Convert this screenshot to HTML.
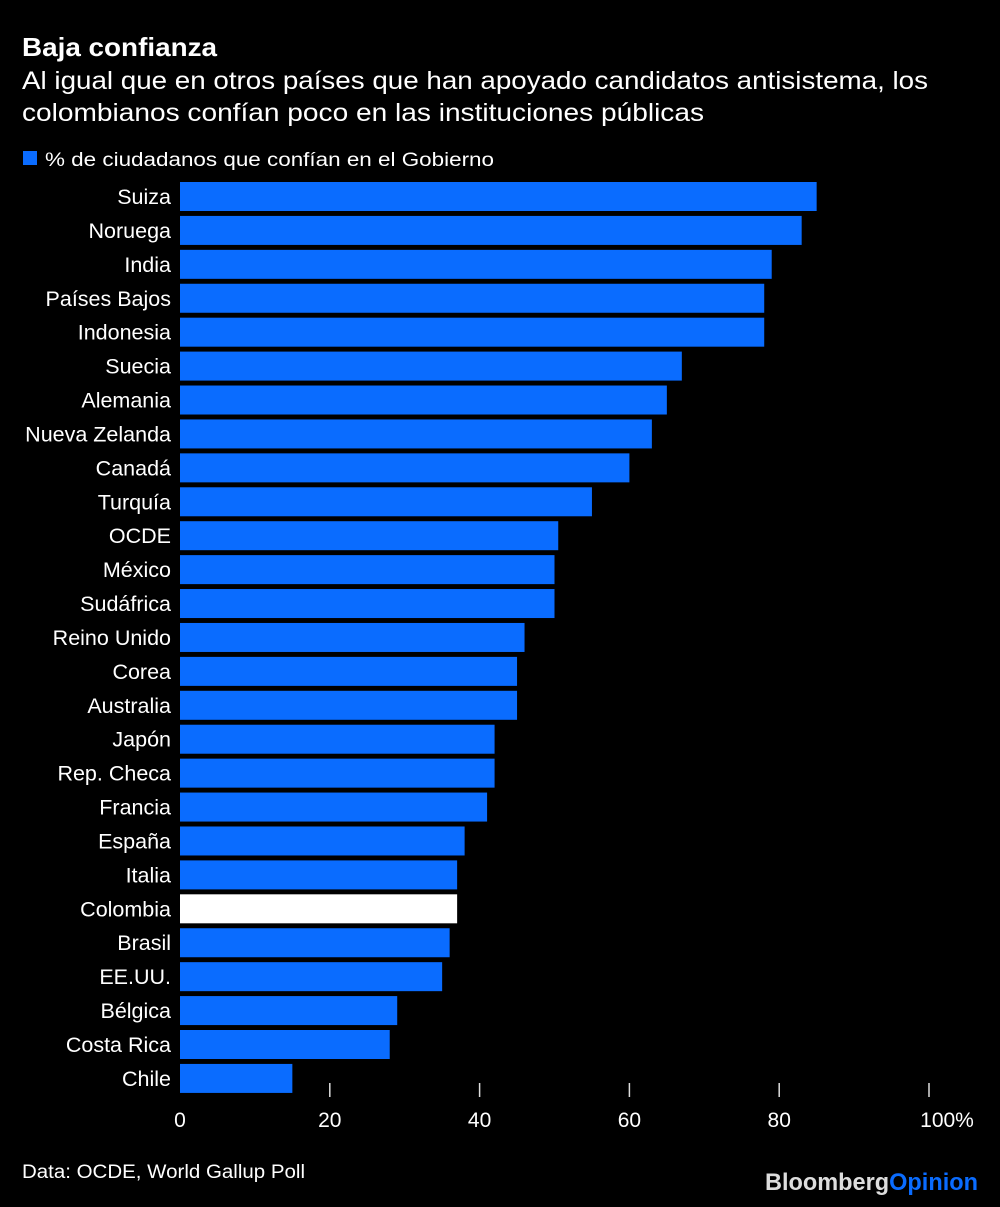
<!DOCTYPE html>
<html><head><meta charset="utf-8"><style>
body{margin:0;background:#000;width:1000px;height:1202px;overflow:hidden;font-family:"Liberation Sans",sans-serif;color:#fff}
</style></head><body>
<svg width="1000" height="1202">
<text x="22" y="56" font-size="26" font-weight="bold" fill="#fff" textLength="195" lengthAdjust="spacingAndGlyphs">Baja confianza</text>
<text x="22" y="89" font-size="25" fill="#fff" textLength="906" lengthAdjust="spacingAndGlyphs">Al igual que en otros países que han apoyado candidatos antisistema, los</text>
<text x="22" y="121" font-size="25" fill="#fff" textLength="682" lengthAdjust="spacingAndGlyphs">colombianos confían poco en las instituciones públicas</text>
<rect x="23" y="151" width="14" height="14" fill="#0a6cff"/>
<text x="45" y="166" font-size="19" fill="#fff" textLength="449" lengthAdjust="spacingAndGlyphs">% de ciudadanos que confían en el Gobierno</text>
<g id="bars"></g><g id="axis"></g>
<text x="22" y="1178" font-size="19" fill="#fff" textLength="283" lengthAdjust="spacingAndGlyphs">Data: OCDE, World Gallup Poll</text>
<text x="765" y="1190" font-size="24" font-weight="bold" textLength="213" lengthAdjust="spacingAndGlyphs"><tspan fill="#ddd">Bloomberg</tspan><tspan fill="#0a6cff">Opinion</tspan></text>
</svg>
<script>
const categories=["Suiza","Noruega","India","Países Bajos","Indonesia","Suecia","Alemania","Nueva Zelanda","Canadá","Turquía","OCDE","México","Sudáfrica","Reino Unido","Corea","Australia","Japón","Rep. Checa","Francia","España","Italia","Colombia","Brasil","EE.UU.","Bélgica","Costa Rica","Chile"];
const values=[85,83,79,78,78,67,65,63,60,55,50.5,50,50,46,45,45,42,42,41,38,37,37,36,35,29,28,15];
const ticks=[0,20,40,60,80,100];
const tickLabels=["0","20","40","60","80","100%"];
const NS="http://www.w3.org/2000/svg";
const x=v=>180+v*7.49;
const y=i=>182+i*33.92;
const bars=document.getElementById("bars"),axis=document.getElementById("axis");
categories.forEach((c,i)=>{
  const r=document.createElementNS(NS,"rect");
  r.setAttribute("x",x(0));r.setAttribute("y",y(i));
  r.setAttribute("width",x(values[i])-x(0));r.setAttribute("height",29);
  r.setAttribute("fill",c==="Colombia"?"#fff":"#0a6cff");
  
  
  bars.appendChild(r);
  const t=document.createElementNS(NS,"text");
  t.setAttribute("x",171);t.setAttribute("y",y(i)+22);
  t.setAttribute("text-anchor","end");t.setAttribute("font-size","21.5");t.setAttribute("fill","#fff");
  t.textContent=c;
  
  
  bars.appendChild(t);
});
ticks.forEach((v,i)=>{
  if(v>0){
  const l=document.createElementNS(NS,"line");
  l.setAttribute("x1",x(v));l.setAttribute("x2",x(v));l.setAttribute("y1",1083);l.setAttribute("y2",1097);
  l.setAttribute("stroke","#ddd");l.setAttribute("stroke-width","1.5");
  
  
  axis.appendChild(l);}
  const t=document.createElementNS(NS,"text");
  t.setAttribute("x",i===ticks.length-1?x(v)+18:x(v));t.setAttribute("y",1127);
  t.setAttribute("text-anchor","middle");t.setAttribute("font-size","21");t.setAttribute("fill","#fff");
  t.textContent=tickLabels[i];
  
  
  axis.appendChild(t);
});
</script>
</body></html>
